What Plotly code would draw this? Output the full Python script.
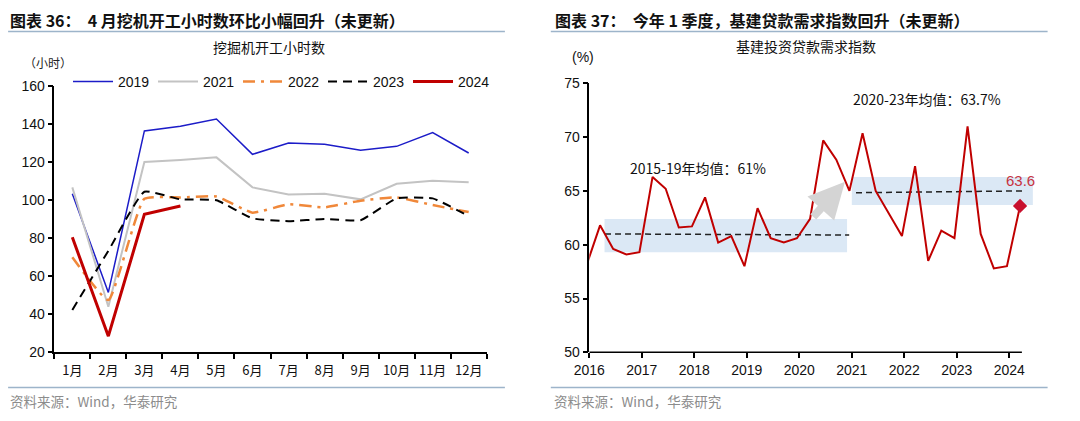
import plotly.graph_objects as go

# ---------------- Left chart data ----------------
months = ["1月", "2月", "3月", "4月", "5月", "6月", "7月", "8月", "9月", "10月", "11月", "12月"]
h2019 = [103.5, 51.5, 136.5, 139.0, 142.8, 124.2, 130.2, 129.5, 126.3, 128.4, 135.6, 124.9]
h2021 = [106.8, 44.0, 120.2, 121.2, 122.6, 106.8, 103.0, 103.5, 100.5, 108.7, 110.3, 109.5]
h2022 = [70.0, 47.5, 100.8, 101.5, 102.0, 93.5, 97.9, 96.3, 99.8, 101.5, 97.5, 93.8]
h2023 = [42.3, 73.4, 104.5, 100.5, 100.0, 90.5, 89.0, 90.2, 89.5, 101.0, 101.0, 91.7]
h2024 = [80.5, 28.5, 92.6, 97.0]

# ---------------- Right chart data ----------------
quarters = ["2015Q4",
            "2016Q1", "2016Q2", "2016Q3", "2016Q4",
            "2017Q1", "2017Q2", "2017Q3", "2017Q4",
            "2018Q1", "2018Q2", "2018Q3", "2018Q4",
            "2019Q1", "2019Q2", "2019Q3", "2019Q4",
            "2020Q1", "2020Q2", "2020Q3", "2020Q4",
            "2021Q1", "2021Q2", "2021Q3", "2021Q4",
            "2022Q1", "2022Q2", "2022Q3", "2022Q4",
            "2023Q1", "2023Q2", "2023Q3", "2023Q4",
            "2024Q1"]
demand = [58.2,
          61.8, 59.6, 59.1, 59.3,
          66.3, 65.2, 61.6, 61.7,
          64.4, 60.2, 60.8, 58.0,
          63.4, 60.6, 60.2, 60.6,
          62.4, 69.7, 67.9, 65.0,
          70.35, 65.0, 62.9, 60.8,
          67.3, 58.5, 61.3, 60.6,
          71.0, 61.0, 57.8, 58.0,
          63.6]
year_ticks = [2016, 2017, 2018, 2019, 2020, 2021, 2022, 2023, 2024]

mean1_x = [2016.30, 2020.95]
mean1_y = [61.0, 60.9]
mean2_x = [2021.08, 2024.28]
mean2_y = [64.83, 65.0]
band1 = dict(x0=2016.29, x1=2020.91, y0=59.3, y1=62.4)
band2 = dict(x0=2021.0, x1=2024.45, y0=63.7, y1=66.3)
arrow_from = (2020.24, 62.45)
arrow_to = (2020.87, 65.85)


def q_to_num(q):
    y = int(q[:4])
    k = int(q[-1])
    return y + (k - 1) * 0.25 + 0.205


qx = [q_to_num(q) for q in quarters]

CJK = "Noto Sans CJK SC"
LAT = "Liberation Sans, Arial"
RED = "#c00000"

fig = go.Figure()

# left traces
fig.add_trace(go.Scatter(x=months, y=h2019, name="2019", mode="lines",
                         line=dict(color="#1c1cc8", width=1.5), xaxis="x", yaxis="y"))
fig.add_trace(go.Scatter(x=months, y=h2021, name="2021", mode="lines",
                         line=dict(color="#c3c3c3", width=2), xaxis="x", yaxis="y"))
fig.add_trace(go.Scatter(x=months, y=h2022, name="2022", mode="lines",
                         line=dict(color="#f0883a", width=2.5, dash="12px,6px,3px,6px",
                                   shape="spline", smoothing=0.4), xaxis="x", yaxis="y"))
fig.add_trace(go.Scatter(x=months, y=h2023, name="2023", mode="lines",
                         line=dict(color="#000000", width=2, dash="9px,6px",
                                   shape="spline", smoothing=0.4), xaxis="x", yaxis="y"))
fig.add_trace(go.Scatter(x=months[:len(h2024)], y=h2024, name="2024", mode="lines",
                         line=dict(color=RED, width=3), xaxis="x", yaxis="y"))

# right traces
fig.add_trace(go.Scatter(x=mean1_x, y=mean1_y, mode="lines", showlegend=False,
                         line=dict(color="#222222", width=1.5, dash="6px,4px"),
                         xaxis="x2", yaxis="y2"))
fig.add_trace(go.Scatter(x=mean2_x, y=mean2_y, mode="lines", showlegend=False,
                         line=dict(color="#222222", width=1.5, dash="6px,4px"),
                         xaxis="x2", yaxis="y2"))
fig.add_trace(go.Scatter(x=qx, y=demand, mode="lines", showlegend=False,
                         line=dict(color=RED, width=2), xaxis="x2", yaxis="y2"))
fig.add_trace(go.Scatter(x=[qx[-1]], y=[demand[-1]], mode="markers", showlegend=False,
                         marker=dict(symbol="diamond", size=11, color="#c8102e"),
                         xaxis="x2", yaxis="y2", cliponaxis=False))

shapes = []
for b in (band1, band2):
    shapes.append(dict(type="rect", xref="x2", yref="y2", layer="below",
                       fillcolor="#dbe8f5", line=dict(width=0), **b))
# right x axis line (axis ends at the last quarter)
shapes.append(dict(type="line", xref="x2", yref="y2 domain", x0=2016, x1=2024.24,
                   y0=0, y1=0, line=dict(color="#000000", width=1.5)))
# separators
for x0, x1 in ((0.0075, 0.4675), (0.51, 0.97)):
    for yy in (1 - 31.5 / 421, 1 - 387.5 / 421):
        shapes.append(dict(type="line", xref="paper", yref="paper", x0=x0, x1=x1,
                           y0=yy, y1=yy, line=dict(color="#9db4ca", width=1.5)))

annotations = [
    dict(text="<b>图表 36：  4 月挖机开工小时数环比小幅回升（未更新）</b>", x=8 / 1080, y=1 - 20 / 421,
         xref="paper", yref="paper", xanchor="left", yanchor="middle", showarrow=False,
         font=dict(family=CJK, size=16, color="#111111")),
    dict(text="<b>图表 37：  今年 1 季度，基建贷款需求指数回升（未更新）</b>", x=553 / 1080, y=1 - 20 / 421,
         xref="paper", yref="paper", xanchor="left", yanchor="middle", showarrow=False,
         font=dict(family=CJK, size=16, color="#111111")),
    dict(text="挖掘机开工小时数", x=269 / 1080, y=1 - 47 / 421, xref="paper", yref="paper",
         xanchor="center", yanchor="middle", showarrow=False,
         font=dict(family=CJK, size=14, color="#111111")),
    dict(text="基建投资贷款需求指数", x=806 / 1080, y=1 - 46 / 421, xref="paper", yref="paper",
         xanchor="center", yanchor="middle", showarrow=False,
         font=dict(family=CJK, size=14, color="#111111")),
    dict(text="（小时）", x=22 / 1080, y=1 - 62 / 421, xref="paper", yref="paper",
         xanchor="left", yanchor="middle", showarrow=False,
         font=dict(family=CJK, size=12, color="#222222")),
    dict(text="(%)", x=583 / 1080, y=1 - 57 / 421, xref="paper", yref="paper",
         xanchor="center", yanchor="middle", showarrow=False,
         font=dict(family=LAT, size=14, color="#111111")),
    dict(text="资料来源：Wind，华泰研究", x=8 / 1080, y=1 - 401 / 421, xref="paper", yref="paper",
         xanchor="left", yanchor="middle", showarrow=False,
         font=dict(family=CJK, size=13.5, color="#8c8c8c")),
    dict(text="资料来源：Wind，华泰研究", x=552 / 1080, y=1 - 401 / 421, xref="paper", yref="paper",
         xanchor="left", yanchor="middle", showarrow=False,
         font=dict(family=CJK, size=13.5, color="#8c8c8c")),
    dict(text="2015-19年均值：61%", x=2018.07, y=67.16, xref="x2", yref="y2",
         xanchor="center", yanchor="middle", showarrow=False,
         font=dict(family=CJK, size=14, color="#111111")),
    dict(text="2020-23年均值：63.7%", x=2022.44, y=73.54, xref="x2", yref="y2",
         xanchor="center", yanchor="middle", showarrow=False,
         font=dict(family=CJK, size=14, color="#111111")),
    dict(text=f"{demand[-1]:.1f}", x=qx[-1], y=demand[-1], xref="x2", yref="y2",
         xanchor="center", yanchor="middle", yshift=25, showarrow=False,
         font=dict(family=LAT, size=15, color="#c8323f")),
    dict(text="", x=arrow_to[0], y=arrow_to[1], ax=arrow_from[0], ay=arrow_from[1],
         xref="x2", yref="y2", axref="x2", ayref="y2", showarrow=True,
         arrowhead=2, arrowsize=0.9, arrowwidth=8, arrowcolor="#d4d4d4"),
]

axis_font = dict(family=LAT, size=14, color="#111111")
fig.update_layout(
    width=1080, height=421, margin=dict(l=0, r=0, t=0, b=0, autoexpand=False),
    paper_bgcolor="white", plot_bgcolor="white",
    showlegend=True,
    legend=dict(orientation="h", x=68 / 1080, y=1 - 66 / 421, xanchor="left", yanchor="top",
                font=dict(family=LAT, size=14, color="#111111"),
                itemwidth=40, entrywidth=30, entrywidthmode="pixels", bgcolor="rgba(0,0,0,0)",
                tracegroupgap=0),
    xaxis=dict(domain=[54.3 / 1080, 486.7 / 1080], type="category", tickson="boundaries",
               range=[-0.5, len(months) - 0.5], tickangle=0, ticklabelstandoff=5,
               ticks="outside", ticklen=5, tickwidth=1.5, tickcolor="#000", showline=True,
               linecolor="#000", linewidth=1.5, showgrid=False, zeroline=False,
               tickfont=dict(family=CJK, size=13, color="#111111"), anchor="y", fixedrange=True),
    yaxis=dict(domain=[(421 - 352.3) / 421, (421 - 86.3) / 421], range=[20, 160], dtick=20,
               ticks="outside", ticklen=5, tickwidth=1.5, tickcolor="#000", showline=True,
               linecolor="#000", linewidth=1.5, showgrid=False, zeroline=False,
               tickfont=axis_font, anchor="x"),
    xaxis2=dict(domain=[589.3 / 1080, (589.3 + 8.45 * 52.5) / 1080], range=[2016, 2024.45],
                tickvals=year_ticks, ticks="outside", ticklen=5, tickwidth=1.5, tickcolor="#000",
                showline=False, showgrid=False, zeroline=False, tickfont=axis_font, anchor="y2"),
    yaxis2=dict(domain=[(421 - 352.3) / 421, (421 - 83.3) / 421], range=[50, 75], dtick=5,
                ticks="outside", ticklen=5, tickwidth=1.5, tickcolor="#000", showline=True,
                linecolor="#000", linewidth=1.5, showgrid=False, zeroline=False,
                tickfont=axis_font, anchor="x2"),
    shapes=shapes,
    annotations=annotations,
)

fig.write_html("out.html", config={"displayModeBar": False},
               post_script="document.body.style.margin='0';document.body.style.padding='0';")
